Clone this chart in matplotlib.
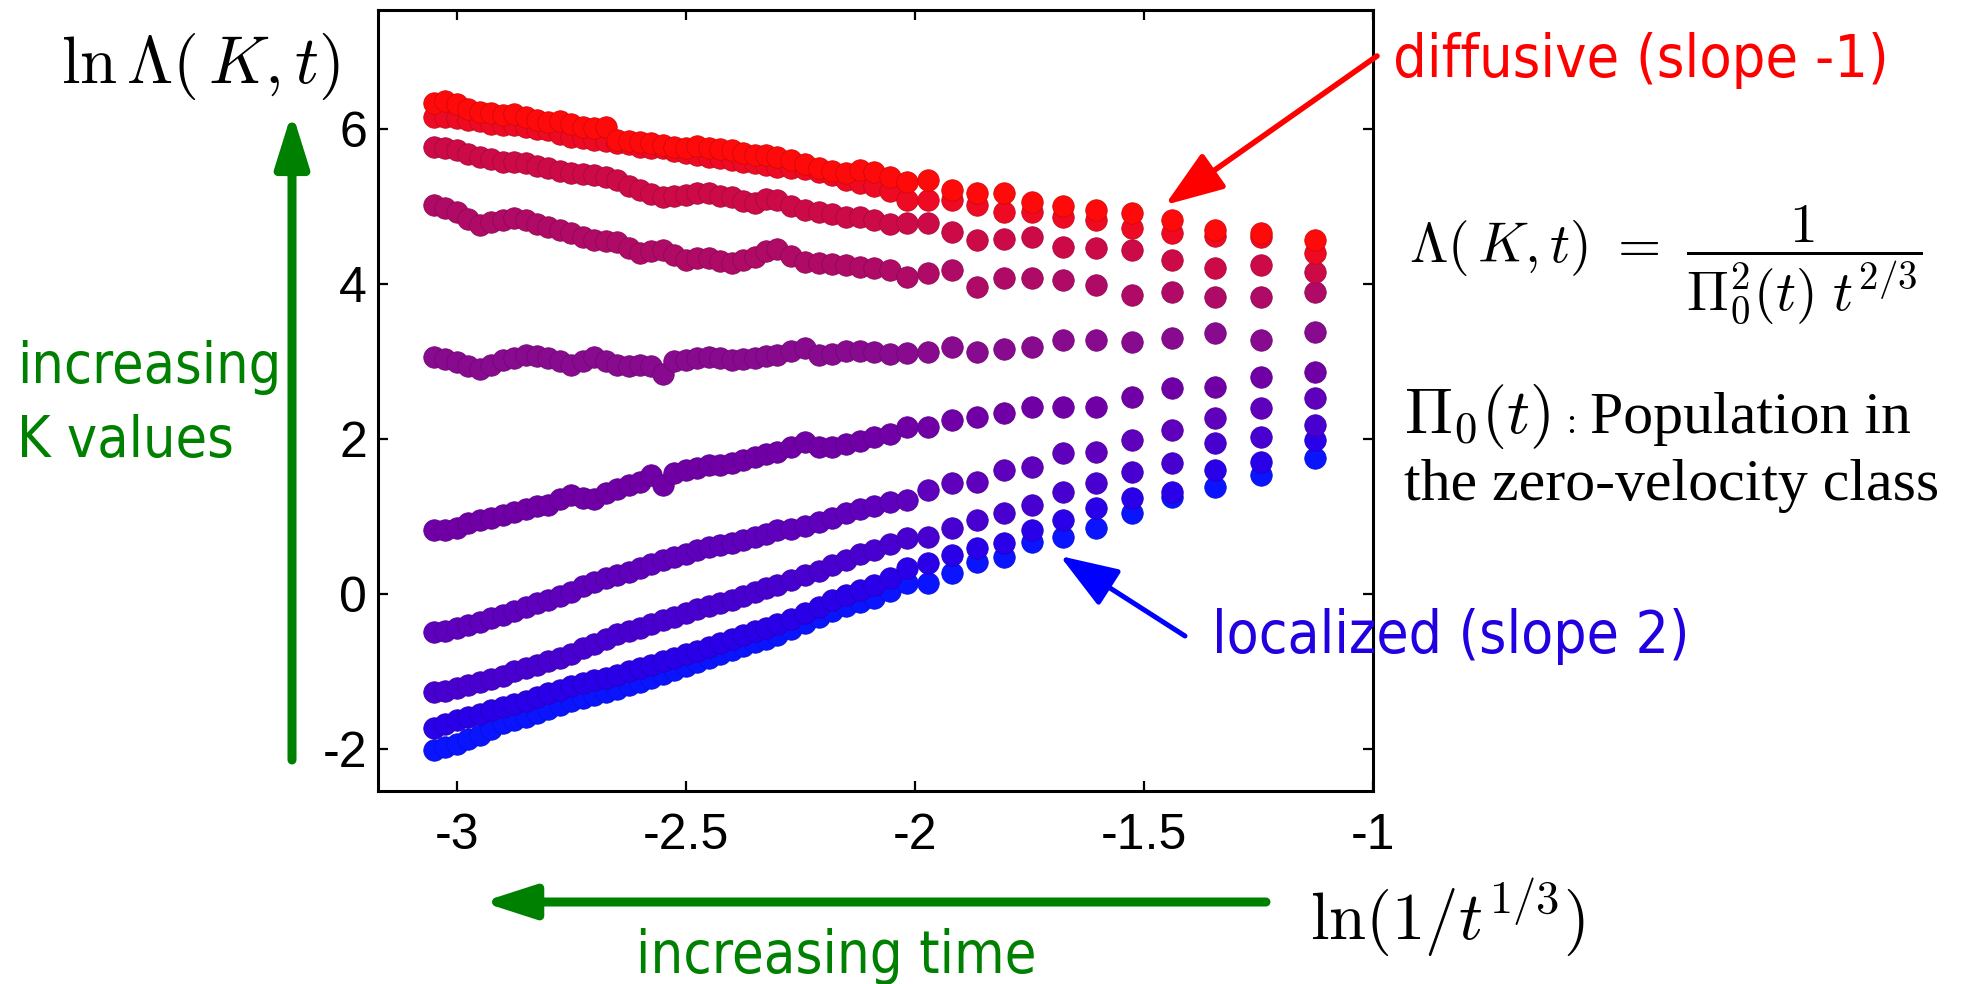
import numpy as np
import matplotlib.pyplot as plt
import matplotlib.colors as mcolors

plt.rcParams['font.family'] = 'Liberation Sans'
plt.rcParams['mathtext.fontset'] = 'cm'
plt.rcParams['axes.unicode_minus'] = False

# x = ln(1/t^(1/3)), shared by every K curve
x_vals = [-3.05, -3.025, -3.0, -2.975, -2.95, -2.925, -2.9, -2.875, -2.85, -2.825,
          -2.8, -2.775, -2.75, -2.725, -2.7, -2.675, -2.65, -2.625, -2.6, -2.575,
          -2.55, -2.525, -2.5, -2.475, -2.45, -2.425, -2.4, -2.375, -2.35, -2.325,
          -2.3, -2.27, -2.24, -2.21, -2.18, -2.15, -2.12, -2.09, -2.055,
          -2.017, -1.972, -1.919, -1.865, -1.806, -1.745, -1.677, -1.605, -1.526,
          -1.439, -1.345, -1.245, -1.127]

# ln Lambda(K,t), smallest K first
lam_k1 = [-2.01, -1.97, -1.93, -1.87, -1.82, -1.74, -1.67, -1.63, -1.59, -1.54,
          -1.49, -1.43, -1.38, -1.34, -1.30, -1.26, -1.22, -1.17, -1.13, -1.08,
          -1.03, -0.98, -0.93, -0.88, -0.83, -0.77, -0.72, -0.67, -0.62, -0.58,
          -0.53, -0.45, -0.37, -0.30, -0.22, -0.15, -0.10, -0.05, 0.04,
          0.14, 0.14, 0.27, 0.41, 0.48, 0.67, 0.74, 0.85, 1.04, 1.25, 1.38, 1.53, 1.75]
lam_k2 = [-1.73, -1.68, -1.63, -1.59, -1.55, -1.50, -1.46, -1.42, -1.38, -1.33,
          -1.28, -1.24, -1.19, -1.15, -1.11, -1.08, -1.04, -1.00, -0.96, -0.91,
          -0.86, -0.82, -0.78, -0.73, -0.69, -0.63, -0.58, -0.53, -0.48, -0.44,
          -0.39, -0.32, -0.25, -0.17, -0.08, -0.01, 0.05, 0.11, 0.20,
          0.34, 0.40, 0.50, 0.59, 0.66, 0.83, 0.95, 1.11, 1.24, 1.32, 1.60, 1.70, 1.99]
lam_k3 = [-1.26, -1.25, -1.21, -1.17, -1.13, -1.10, -1.06, -1.00, -0.95, -0.91,
          -0.87, -0.82, -0.77, -0.70, -0.64, -0.58, -0.52, -0.48, -0.44, -0.39,
          -0.34, -0.30, -0.25, -0.20, -0.15, -0.12, -0.08, -0.03, 0.03, 0.08,
          0.12, 0.18, 0.24, 0.30, 0.37, 0.44, 0.51, 0.57, 0.65,
          0.72, 0.74, 0.85, 0.95, 1.04, 1.15, 1.32, 1.43, 1.57, 1.69, 1.95, 2.03, 2.18]
lam_k4 = [-0.49, -0.48, -0.44, -0.40, -0.36, -0.31, -0.27, -0.22, -0.17, -0.12,
          -0.08, -0.03, 0.03, 0.10, 0.16, 0.20, 0.25, 0.29, 0.33, 0.39,
          0.44, 0.48, 0.52, 0.57, 0.61, 0.63, 0.66, 0.70, 0.74, 0.78,
          0.82, 0.84, 0.88, 0.93, 0.98, 1.04, 1.10, 1.14, 1.19,
          1.21, 1.34, 1.43, 1.45, 1.60, 1.64, 1.82, 1.83, 1.99, 2.12, 2.27, 2.40, 2.53]
lam_k5 = [0.83, 0.82, 0.85, 0.91, 0.95, 0.98, 1.02, 1.06, 1.10, 1.13,
          1.15, 1.22, 1.28, 1.24, 1.22, 1.30, 1.36, 1.41, 1.45, 1.53,
          1.40, 1.56, 1.60, 1.63, 1.66, 1.67, 1.69, 1.73, 1.77, 1.80,
          1.83, 1.90, 1.96, 1.90, 1.90, 1.93, 1.98, 2.02, 2.07,
          2.15, 2.15, 2.25, 2.28, 2.34, 2.41, 2.41, 2.41, 2.54, 2.66, 2.67, 2.80, 2.86]
lam_k6 = [3.06, 3.03, 2.99, 2.94, 2.90, 2.96, 3.02, 3.05, 3.08, 3.07,
          3.05, 3.00, 2.95, 3.01, 3.06, 3.01, 2.95, 2.94, 2.95, 2.94,
          2.84, 3.00, 3.02, 3.05, 3.06, 3.04, 3.02, 3.03, 3.05, 3.07,
          3.08, 3.14, 3.17, 3.09, 3.10, 3.13, 3.13, 3.12, 3.10,
          3.11, 3.12, 3.19, 3.12, 3.16, 3.19, 3.28, 3.28, 3.25, 3.30, 3.37, 3.28, 3.38]
lam_k7 = [5.02, 4.98, 4.93, 4.84, 4.76, 4.80, 4.83, 4.85, 4.83, 4.78,
          4.74, 4.70, 4.66, 4.61, 4.57, 4.56, 4.54, 4.46, 4.40, 4.43,
          4.44, 4.37, 4.31, 4.33, 4.34, 4.30, 4.27, 4.31, 4.35, 4.42,
          4.45, 4.36, 4.28, 4.27, 4.26, 4.25, 4.22, 4.21, 4.18,
          4.09, 4.14, 4.18, 3.96, 4.08, 4.08, 4.05, 3.99, 3.86, 3.90, 3.83, 3.83, 3.90]
lam_k8 = [5.77, 5.76, 5.73, 5.68, 5.64, 5.61, 5.58, 5.58, 5.56, 5.52,
          5.49, 5.46, 5.43, 5.42, 5.41, 5.38, 5.34, 5.27, 5.21, 5.16,
          5.12, 5.14, 5.15, 5.18, 5.17, 5.14, 5.12, 5.07, 5.04, 5.10,
          5.08, 5.00, 4.95, 4.93, 4.90, 4.86, 4.86, 4.82, 4.77,
          4.79, 4.79, 4.67, 4.57, 4.58, 4.60, 4.48, 4.46, 4.44, 4.31, 4.21, 4.25, 4.15]
lam_k9 = [6.15, 6.16, 6.14, 6.12, 6.10, 6.07, 6.05, 6.05, 6.03, 6.00,
          5.99, 5.94, 5.90, 5.88, 5.86, 5.84, 5.82, 5.80, 5.77, 5.76,
          5.75, 5.72, 5.69, 5.66, 5.64, 5.62, 5.60, 5.58, 5.56, 5.53,
          5.51, 5.50, 5.48, 5.45, 5.40, 5.34, 5.30, 5.26, 5.20,
          5.08, 5.08, 5.08, 5.02, 4.93, 4.93, 4.86, 4.83, 4.72, 4.66, 4.62, 4.60, 4.40]
lam_k10 = [6.33, 6.36, 6.32, 6.26, 6.22, 6.21, 6.18, 6.19, 6.16, 6.12,
           6.09, 6.10, 6.07, 6.03, 6.01, 6.02, 5.86, 5.85, 5.83, 5.82,
           5.79, 5.77, 5.75, 5.78, 5.75, 5.74, 5.73, 5.69, 5.66, 5.66,
           5.64, 5.60, 5.55, 5.49, 5.46, 5.43, 5.47, 5.44, 5.38,
           5.32, 5.34, 5.21, 5.17, 5.17, 5.06, 5.00, 4.95, 4.92, 4.83, 4.70, 4.66, 4.57]

x_ticks = [-3, -2.5, -2, -1.5, -1]
x_tick_labels = ['-3', '-2.5', '-2', '-1.5', '-1']
y_ticks = [-2, 0, 2, 4, 6]
y_tick_labels = ['-2', '0', '2', '4', '6']

curves = [lam_k1, lam_k2, lam_k3, lam_k4, lam_k5, lam_k6, lam_k7, lam_k8, lam_k9, lam_k10]
# blue (small K) to red (large K)
curve_colors = ['#0a14ff', '#2a00e8', '#4800d0', '#5e00bc', '#7000a6',
                '#880a8e', '#ae0a66', '#cc0a48', '#ee0a22', '#ff0a0a']

W, H = 1963, 984
def fxy(px, py):
    # pixel position (from top left) -> figure fraction
    return (px / W, 1 - py / H)

fig = plt.figure(figsize=(W / 100, H / 100), dpi=100)
ax = fig.add_axes([378 / W, 1 - 791 / H, 995 / W, 781 / H])

for ys, c in zip(curves, curve_colors):
    edge = np.array(mcolors.to_rgb(c)) * 0.8
    ax.plot(x_vals, ys, linestyle='none', marker='o', markersize=15.5,
            markerfacecolor=c, markeredgecolor=edge, markeredgewidth=0.5)

ax.set_xlim(-3.172, -1.0)
ax.set_ylim(-2.542, 7.535)
ax.set_xticks(x_ticks)
ax.set_xticklabels(x_tick_labels)
ax.set_yticks(y_ticks)
ax.set_yticklabels(y_tick_labels)
ax.tick_params(direction='in', length=7, width=1.6, top=True, right=True,
               labelsize=36, colors='black')
ax.tick_params(axis='x', pad=16)
ax.tick_params(axis='y', pad=8)
for sp in ax.spines.values():
    sp.set_linewidth(2.2)

# axis labels in math font
fig.text(*fxy(201, 66), r'$\ln\Lambda(\,K,t)$', fontsize=48, ha='center', va='center')
fig.text(*fxy(1447, 918), r'$\ln(1/t^{1/3})$', fontsize=48, ha='center', va='center')

# formula and legend text on the right
fig.text(*fxy(1666, 265), r'$\Lambda(\,K,t)\ =\ \dfrac{1}{\Pi_0^2(t)\ t^{2/3}}$',
         fontsize=40, ha='center', va='center')
fig.text(*fxy(1404, 433), r'$\Pi_0(t)$', fontsize=46, ha='left', va='baseline')
fig.text(*fxy(1566, 433), ':', fontsize=26, ha='left', va='baseline',
         family='Liberation Serif')
fig.text(*fxy(1590, 433), 'Population in', fontsize=43, ha='left', va='baseline',
         family='Liberation Serif')
fig.text(*fxy(1404, 500), 'the zero-velocity class', fontsize=43, ha='left',
         va='baseline', family='Liberation Serif')

# annotation texts
green = '#008000'
fig.text(*fxy(1393, 77), 'diffusive (slope -1)', fontsize=42.5, color='#ff0000',
         ha='left', va='baseline', family='DejaVu Sans', stretch='condensed')
fig.text(*fxy(1212, 653), 'localized (slope 2)', fontsize=42, color='#2000e0',
         ha='left', va='baseline', family='DejaVu Sans', stretch='condensed')
fig.text(*fxy(17, 383), 'increasing', fontsize=41, color=green,
         ha='left', va='baseline', family='DejaVu Sans', stretch='condensed')
fig.text(*fxy(17, 457), 'K values', fontsize=41, color=green,
         ha='left', va='baseline', family='DejaVu Sans', stretch='condensed')
fig.text(*fxy(636, 973), 'increasing time', fontsize=41.5, color=green,
         ha='left', va='baseline', family='DejaVu Sans', stretch='condensed')

# arrows
def arrow(tail, tip, color, lw, hl, hw):
    ax.annotate('', xy=fxy(*tip), xytext=fxy(*tail), xycoords='figure fraction',
                textcoords='figure fraction', annotation_clip=False,
                arrowprops=dict(arrowstyle='-|>,head_length=%g,head_width=%g' % (hl, hw),
                                mutation_scale=20, lw=lw, color=color,
                                shrinkA=0, shrinkB=0))

arrow((1377, 56), (1165, 205), '#ff0000', 4.0, 1.8, 0.65)
arrow((1185, 636), (1060, 556), '#0000ff', 3.6, 1.8, 0.65)
arrow((292, 760), (292, 112), green, 6.5, 1.6, 0.5)
arrow((1266, 902), (482, 902), green, 6.5, 1.55, 0.5)

plt.savefig('out.png', dpi=100)
plt.close()
